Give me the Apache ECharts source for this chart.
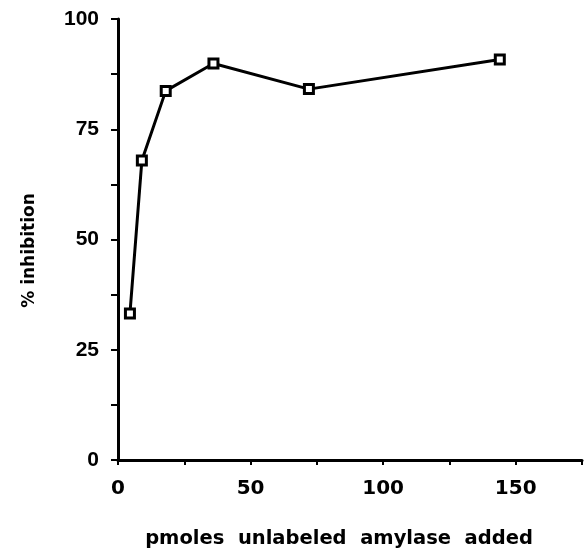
<!DOCTYPE html>
<html><head><meta charset="utf-8">
<script src="https://cdn.jsdelivr.net/npm/echarts@6/dist/echarts.min.js"></script>
<style>html,body{margin:0;padding:0;background:#fff}#c{width:587px;height:552px}</style>
</head><body><div id="c"></div>
<script>
var pmoles = [4.5, 9, 18, 36, 72, 144];
var inhibition = [33.2, 67.9, 83.7, 89.9, 84.1, 90.8];
var xTicks = [0, 50, 100, 150];
var yTicks = [0, 25, 50, 75, 100];

var chart = echarts.init(document.getElementById('c'));
var font = 'Liberation Sans, Arial, sans-serif';
var wide = 'DejaVu Sans, sans-serif';
chart.setOption({
  animation: false,
  backgroundColor: '#fff',
  grid: {left: 118, right: 5, top: 19, bottom: 92, outerBoundsMode: 'none', containLabel: false},
  xAxis: {
    type: 'value', min: 0, max: 175, interval: 25,
    name: 'pmoles  unlabeled  amylase  added',
    nameLocation: 'middle', nameGap: 69,
    nameTextStyle: {fontFamily: wide, fontWeight: 'bold', fontSize: 19.5, color: '#000', padding: [0, 22, 0, 0]},
    axisLine: {lineStyle: {color: '#000', width: 3}},
    axisTick: {show: true, length: 5, lineStyle: {color: '#000', width: 2}},
    splitLine: {show: false},
    axisLabel: {
      margin: 19, color: '#000', fontFamily: wide, fontWeight: 'bold', fontSize: 20,
      formatter: function (v) { return xTicks.indexOf(v) >= 0 ? String(v) : ''; }
    }
  },
  yAxis: {
    type: 'value', min: 0, max: 100, interval: 12.5,
    name: '% inhibition',
    nameLocation: 'middle', nameGap: 80, nameRotate: 90,
    nameTextStyle: {fontFamily: wide, fontWeight: 'bold', fontSize: 17, color: '#000', padding: [0, 22, 0, 0]},
    axisLine: {show: true, lineStyle: {color: '#000', width: 3}},
    axisTick: {show: true, length: 7, lineStyle: {color: '#000', width: 2}},
    splitLine: {show: false},
    axisLabel: {
      margin: 19, color: '#000', fontFamily: font, fontWeight: 'bold', fontSize: 21,
      formatter: function (v) { return yTicks.indexOf(v) >= 0 ? String(v) : ''; }
    }
  },
  series: [{
    type: 'line',
    data: pmoles.map(function (x, i) { return [x, inhibition[i]]; }),
    symbol: 'rect', symbolSize: 9,
    lineStyle: {color: '#000', width: 3},
    itemStyle: {color: '#fff', borderColor: '#000', borderWidth: 3}
  }]
});
</script></body></html>
